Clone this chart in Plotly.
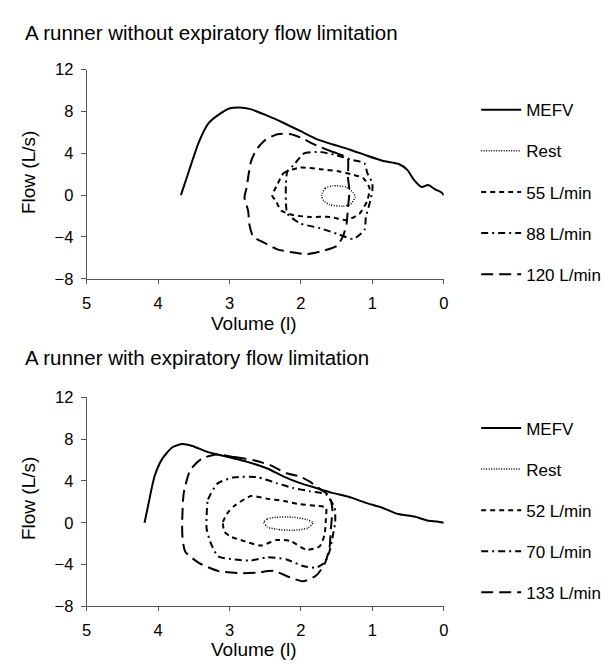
import plotly.graph_objects as go

# ---- Top panel: runner without expiratory flow limitation ----
top_mefv_vol = [3.68, 3.60, 3.43, 3.29, 3.15, 2.99, 2.86, 2.72, 2.47, 2.24, 2.01, 1.78, 1.55, 1.32, 1.09, 0.86, 0.63, 0.51, 0.42, 0.31, 0.22, 0.12, 0.03, 0.0]
top_mefv_flow = [0.0, 1.64, 5.05, 6.9, 7.7, 8.3, 8.37, 8.25, 7.6, 6.9, 6.14, 5.36, 4.84, 4.37, 3.81, 3.29, 2.98, 2.42, 1.49, 0.78, 0.96, 0.56, 0.25, 0.0]

top_rest_vol = [1.71, 1.66, 1.55, 1.37, 1.27, 1.24, 1.30, 1.41, 1.59, 1.68, 1.71]
top_rest_flow = [-0.06, 0.65, 0.90, 0.77, 0.25, -0.15, -0.84, -1.05, -0.93, -0.53, -0.06]

top_55_vol = [2.33, 2.24, 2.01, 1.73, 1.46, 1.27, 1.13, 1.04, 1.07, 1.18, 1.36, 1.59, 1.87, 2.10, 2.28, 2.35, 2.40, 2.33]
top_55_flow = [1.02, 2.11, 2.64, 2.48, 2.26, 1.95, 1.64, 0.71, -0.53, -1.77, -2.39, -2.08, -2.08, -1.92, -1.46, -0.53, -0.06, 1.02]

top_88_vol = [2.10, 1.96, 1.73, 1.50, 1.27, 1.11, 1.07, 1.00, 1.00, 1.04, 1.09, 1.11, 1.27, 1.46, 1.73, 2.01, 2.19, 2.21, 2.21, 2.19, 2.10]
top_88_flow = [2.88, 3.97, 4.12, 3.81, 3.35, 3.04, 2.11, 1.18, 0.40, -0.84, -2.08, -3.32, -4.19, -3.78, -3.16, -2.70, -1.77, -0.53, 1.02, 2.26, 2.88]

top_120_vol = [1.36, 1.55, 1.78, 2.01, 2.14, 2.33, 2.51, 2.63, 2.70, 2.74, 2.76, 2.79, 2.74, 2.72, 2.67, 2.51, 2.33, 2.10, 1.91, 1.69, 1.50, 1.41, 1.36, 1.34, 1.32, 1.34, 1.34, 1.36]
top_120_flow = [3.66, 4.12, 4.74, 5.52, 5.83, 5.83, 5.21, 4.28, 3.19, 1.64, 0.71, -0.22, -1.46, -2.85, -3.94, -4.56, -5.18, -5.49, -5.64, -5.33, -4.87, -3.94, -2.70, -1.15, 0.40, 1.64, 3.50, 3.66]

# ---- Bottom panel: runner with expiratory flow limitation ----
bot_mefv_vol = [4.19, 4.14, 4.05, 3.94, 3.80, 3.66, 3.53, 3.30, 3.02, 2.75, 2.47, 2.24, 2.01, 1.79, 1.56, 1.33, 1.10, 0.87, 0.64, 0.41, 0.23, 0.09, 0.0]
bot_mefv_flow = [0.0, 1.62, 4.42, 6.13, 7.22, 7.53, 7.37, 6.75, 6.28, 5.82, 5.19, 4.42, 3.79, 3.33, 2.86, 2.49, 1.93, 1.46, 0.84, 0.59, 0.22, 0.12, 0.0]

bot_rest_vol = [2.52, 2.47, 2.34, 2.11, 1.92, 1.83, 1.90, 2.11, 2.34, 2.47, 2.52]
bot_rest_flow = [0.06, 0.37, 0.53, 0.53, 0.31, 0.0, -0.50, -0.72, -0.62, -0.40, 0.06]

bot_52_vol = [3.07, 3.09, 3.02, 2.93, 2.70, 2.47, 2.24, 2.01, 1.79, 1.65, 1.65, 1.67, 1.74, 1.92, 2.15, 2.34, 2.56, 2.84, 2.98, 3.07]
bot_52_flow = [-0.87, 0.06, 1.00, 1.62, 2.55, 2.30, 2.08, 1.77, 1.62, 1.46, 0.37, -1.18, -2.27, -2.58, -1.74, -1.65, -2.18, -1.65, -1.34, -0.87]

bot_70_vol = [3.32, 3.30, 3.16, 2.93, 2.61, 2.34, 2.11, 1.88, 1.65, 1.53, 1.52, 1.56, 1.60, 1.67, 1.79, 1.97, 2.20, 2.47, 2.70, 2.93, 3.16, 3.27, 3.32, 3.32]
bot_70_flow = [0.68, 2.24, 3.79, 4.35, 4.35, 3.79, 3.33, 3.02, 2.71, 1.46, 0.06, -1.49, -2.74, -3.83, -4.29, -4.14, -3.51, -3.30, -3.61, -3.51, -3.20, -1.80, -0.56, 0.68]

bot_133_vol = [3.18, 2.93, 2.66, 2.43, 2.20, 2.01, 1.88, 1.72, 1.60, 1.56, 1.58, 1.60, 1.67, 1.79, 1.97, 2.15, 2.38, 2.61, 2.84, 3.16, 3.43, 3.62, 3.66, 3.66, 3.64, 3.55, 3.39, 3.18]
bot_133_flow = [6.53, 6.28, 5.97, 5.51, 4.73, 4.42, 3.95, 3.17, 2.55, 1.31, -0.56, -2.43, -3.98, -5.07, -5.60, -5.23, -4.60, -4.76, -4.82, -4.60, -3.83, -2.74, -1.18, 0.68, 2.86, 5.04, 6.13, 6.53]

titles = ["A runner without expiratory flow limitation", "A runner with expiratory flow limitation"]
top_names = ["MEFV", "Rest", "55 L/min", "88 L/min", "120 L/min"]
bot_names = ["MEFV", "Rest", "52 L/min", "70 L/min", "133 L/min"]
x_title = "Volume (l)"
y_title = "Flow (L/s)"
x_ticks = [0, 1, 2, 3, 4, 5]
y_ticks = [-8, -4, 0, 4, 8, 12]

styles = [
    dict(dash="solid", width=2),
    dict(dash="1px,1.5px", width=1.5),
    dict(dash="5px,4px", width=2),
    dict(dash="7px,4px,2px,4px", width=2),
    dict(dash="12px,6px", width=2),
]

FONT = "Liberation Sans, Arial, sans-serif"
fig = go.Figure()

panels = [
    (top_names, [(top_mefv_vol, top_mefv_flow), (top_rest_vol, top_rest_flow), (top_55_vol, top_55_flow),
                 (top_88_vol, top_88_flow), (top_120_vol, top_120_flow)], "x", "y", "legend"),
    (bot_names, [(bot_mefv_vol, bot_mefv_flow), (bot_rest_vol, bot_rest_flow), (bot_52_vol, bot_52_flow),
                 (bot_70_vol, bot_70_flow), (bot_133_vol, bot_133_flow)], "x2", "y2", "legend2"),
]
for names, series, xa, ya, lg in panels:
    for i, (name, (vx, vy)) in enumerate(zip(names, series)):
        fig.add_trace(go.Scatter(
            x=vx, y=vy, mode="lines", name=name, xaxis=xa, yaxis=ya, legend=lg,
            legendgroup=lg + str(i),
            line=dict(color="black", shape="spline", smoothing=0.6, **styles[i]),
        ))

W, H = 613, 668
xdom = [83 / W, 446 / W]
top_dom = [1 - 277.3 / H, 1 - 62.3 / H]
bot_dom = [1 - 614 / H, 1 - 399 / H]

axis_common = dict(showgrid=False, zeroline=False, showline=True, linecolor="#555", linewidth=1,
                   ticks="outside", ticklen=4, tickcolor="#555",
                   tickfont=dict(size=16.5, color="black", family=FONT))
xcommon = dict(axis_common, range=[5, 0], tickvals=x_ticks, domain=xdom, ticklabelstandoff=5)
ycommon = dict(axis_common, range=[-8, 12], tickvals=y_ticks, ticklen=5, ticklabelstandoff=4)

legend_common = dict(x=479 / W, xanchor="left", yanchor="top", bgcolor="rgba(0,0,0,0)",
                     font=dict(size=17, color="black", family=FONT), tracegroupgap=16, itemwidth=40)


def ann(text, x, y, size, angle=0, xanchor="center"):
    return dict(text=text, x=x / W, y=1 - y / H, xref="paper", yref="paper", xanchor=xanchor, yanchor="middle",
                showarrow=False, textangle=angle, font=dict(size=size, color="black", family=FONT))


fig.update_layout(
    width=W, height=H, margin=dict(l=0, r=0, t=0, b=0),
    paper_bgcolor="white", plot_bgcolor="white",
    xaxis=dict(xcommon, anchor="y"),
    yaxis=dict(ycommon, domain=top_dom, anchor="x"),
    xaxis2=dict(xcommon, anchor="y2"),
    yaxis2=dict(ycommon, domain=bot_dom, anchor="x2"),
    legend=dict(legend_common, y=1 - 85.5 / H),
    legend2=dict(legend_common, y=1 - 412.5 / H),
    annotations=[
        ann(titles[0], 18, 24, 20.5, xanchor="left"),
        ann(titles[1], 18, 358, 20.5, xanchor="left"),
        ann(y_title, 24, 168, 19, angle=-90),
        ann(y_title, 24, 503, 19, angle=-90),
        ann(x_title, 253, 323, 19),
        ann(x_title, 253, 658, 19),
    ],
)

fig.write_html("out.html", post_script="document.body.style.margin='0px';", config=dict(displayModeBar=False))
